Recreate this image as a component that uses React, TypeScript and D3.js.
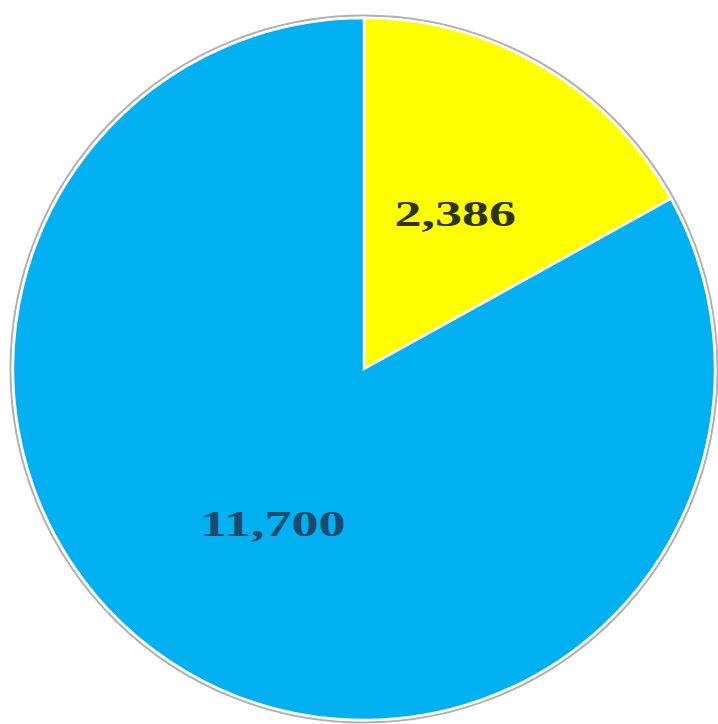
import React from "react";
import * as d3 from "d3";

const labels = ["Yellow", "Blue"];
const values = [2386, 11700];
const colors = ["#FFFF00", "#00B0F0"];
const textColors = ["#2b3318", "#1b4a6c"];

const W = 718;
const H = 724;
const cx = 364;
const cy = 369;
const R = 351;

export default function App() {
  const pie = d3.pie<number>().sort(null).value((d) => d);
  const arcs = pie(values);
  const arc = d3.arc<d3.PieArcDatum<number>>().innerRadius(0).outerRadius(R);
  const labelArc = d3.arc<d3.PieArcDatum<number>>().innerRadius(180).outerRadius(180);
  const fmt = d3.format(",");
  return (
    <svg width={W} height={H} style={{ position: "absolute", left: 0, top: 0, background: "#fff" }}>
      <g transform={`translate(${cx},${cy})`}>
        <circle r={R + 2.5} fill="none" stroke="#b0b0b0" strokeWidth={2} />
        {arcs.map((a, i) => (
          <path key={labels[i]} d={arc(a) || ""} fill={colors[i]} stroke="#ffffff" strokeWidth={2.5} />
        ))}
        {arcs.map((a, i) => {
          const [x, y] = labelArc.centroid(a);
          return (
            <text
              key={"t" + labels[i]}
              transform={`translate(${x},${y + 12}) scale(1.5,1)`}
              textAnchor="middle"
              fontFamily="'Liberation Serif', 'DejaVu Serif', serif"
              fontWeight="bold"
              fontSize={36}
              fill={textColors[i]}
            >
              {fmt(values[i])}
            </text>
          );
        })}
      </g>
    </svg>
  );
}
